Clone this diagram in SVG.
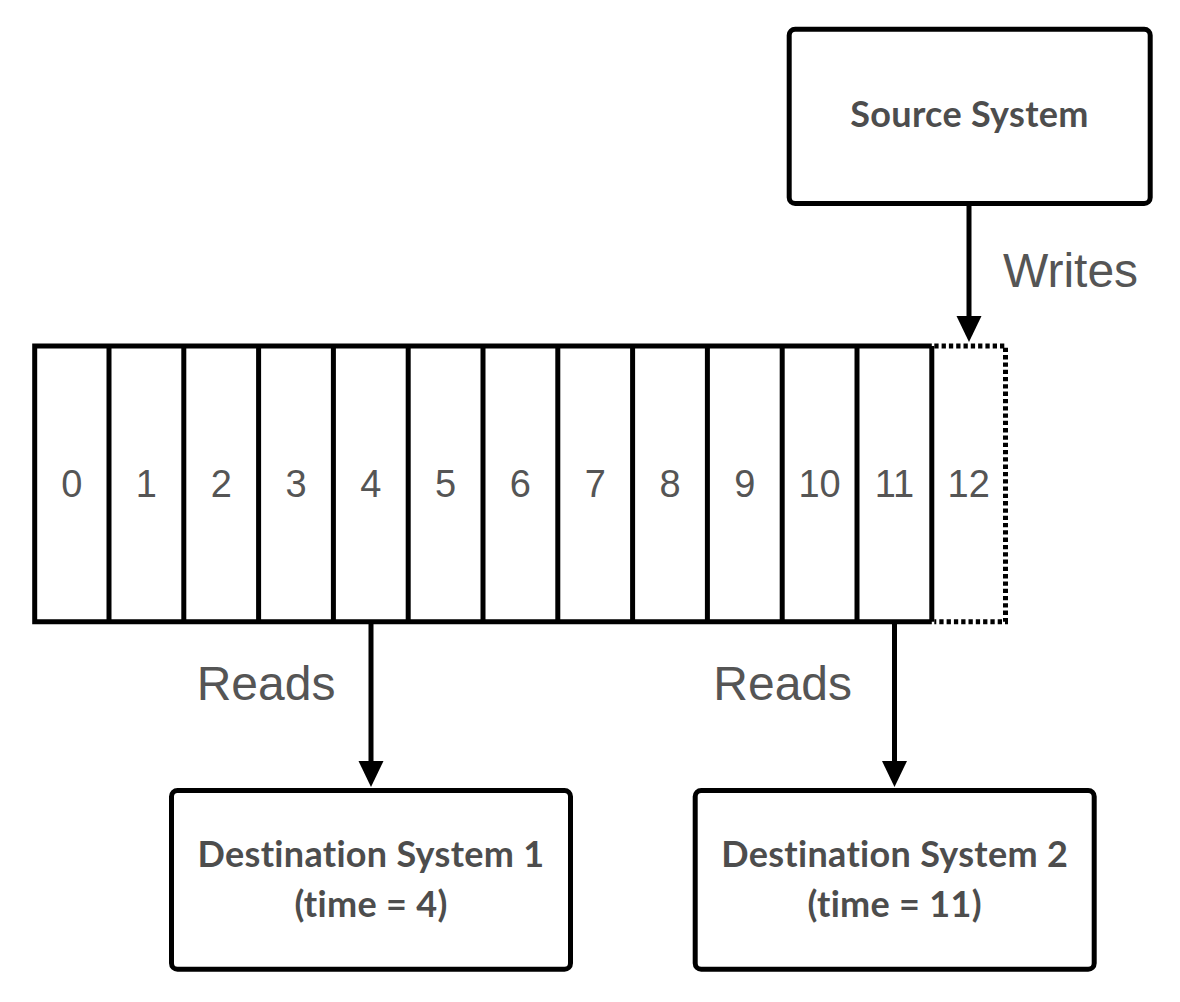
<svg xmlns="http://www.w3.org/2000/svg" width="1180" height="1002" viewBox="0 0 1180 1002">
  <style>
    .box { fill: #ffffff; stroke: #000000; stroke-width: 5; }
    .lbl { font-family: Lato, "Open Sans", "Liberation Sans", sans-serif; font-weight: 700; font-size: 36px; letter-spacing: 0.3px; fill: #4d4d4d; text-anchor: middle; }
    .big { font-family: "Liberation Sans", Arial, sans-serif; font-size: 48px; fill: #555555; }
    .num { font-family: "Liberation Sans", Arial, sans-serif; font-size: 38px; fill: #555555; text-anchor: middle; }
    .solid { fill: none; stroke: #000000; stroke-width: 5; }
    .dotted { fill: none; stroke: #000000; stroke-width: 5; stroke-dasharray: 4.3 3; }
    .conn { fill: none; stroke: #000000; stroke-width: 5; }
  </style>
  <defs>
    <marker id="arrow" markerUnits="userSpaceOnUse" markerWidth="28" markerHeight="26" refX="0" refY="12.5" orient="auto" viewBox="0 0 28 26">
      <path d="M0,0 L26,12.5 L0,25 Z" fill="#000000"/>
    </marker>
  </defs>
  <rect width="1180" height="1002" fill="#ffffff"/>

  <g id="source-system">
    <rect class="box" x="789.2" y="29.2" width="361" height="174.3" rx="6"/>
    <text class="lbl" x="969.5" y="127">Source System</text>
  </g>

  <g id="log">
    <path class="solid" d="M931.8,346 H34.7 V621.7 H931.8"/>
    <path class="solid" d="M109,346 V621.7 M183.8,346 V621.7 M258.6,346 V621.7 M333.4,346 V621.7 M408.2,346 V621.7 M483,346 V621.7 M557.8,346 V621.7 M632.6,346 V621.7 M707.4,346 V621.7 M782.2,346 V621.7 M857,346 V621.7 M931.8,346 V621.7"/>
    <path class="dotted" d="M934.3,346 H1005.5 V621.7 H934.3"/>
    <text class="num" x="71.9" y="497">0</text>
    <text class="num" x="146.4" y="497">1</text>
    <text class="num" x="221.2" y="497">2</text>
    <text class="num" x="296" y="497">3</text>
    <text class="num" x="370.8" y="497">4</text>
    <text class="num" x="445.6" y="497">5</text>
    <text class="num" x="520.4" y="497">6</text>
    <text class="num" x="595.2" y="497">7</text>
    <text class="num" x="670" y="497">8</text>
    <text class="num" x="744.8" y="497">9</text>
    <text class="num" x="819.6" y="497">10</text>
    <text class="num" x="894.4" y="497">11</text>
    <text class="num" x="968.7" y="497">12</text>
  </g>

  <g id="destination-1">
    <rect class="box" x="171.5" y="790.5" width="399" height="178.7" rx="6"/>
    <text class="lbl" x="371" y="867">Destination System 1</text>
    <text class="lbl" x="371" y="917">(time = 4)</text>
  </g>

  <g id="destination-2">
    <rect class="box" x="695.2" y="790.5" width="399" height="178.7" rx="6"/>
    <text class="lbl" x="894.7" y="867">Destination System 2</text>
    <text class="lbl" x="894.7" y="917">(time = 11)</text>
  </g>

  <g id="connectors">
    <line class="conn" x1="969" y1="206" x2="969" y2="316" marker-end="url(#arrow)"/>
    <text class="big" x="1003" y="287">Writes</text>
    <line class="conn" x1="371" y1="622" x2="371" y2="761" marker-end="url(#arrow)"/>
    <text class="big" x="196.7" y="700">Reads</text>
    <line class="conn" x1="894.5" y1="622" x2="894.5" y2="761" marker-end="url(#arrow)"/>
    <text class="big" x="713.3" y="700">Reads</text>
  </g>
</svg>
